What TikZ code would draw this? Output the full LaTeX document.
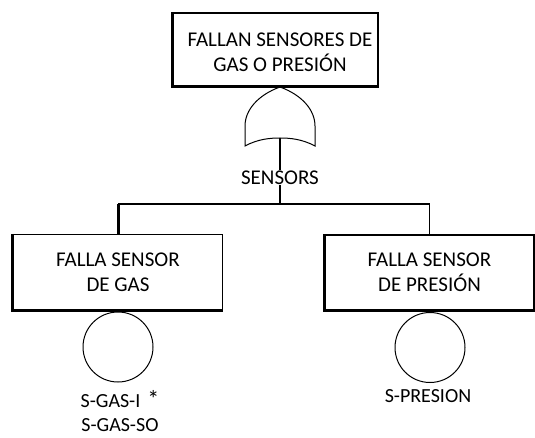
\documentclass[tikz,border=0pt]{standalone}
\usepackage{fontspec}
\setmainfont{Carlito}
\begin{document}
\begin{tikzpicture}[x=1pt,y=-1pt,
  box/.style={draw,line width=1.3pt,minimum width=209pt,minimum height=75pt,inner sep=0pt,align=center,font=\fontsize{21}{25}\selectfont},
  txt/.style={font=\fontsize{21}{25}\selectfont,align=center,inner sep=0pt},
  lbl/.style={font=\fontsize{20}{24}\selectfont,align=center,inner sep=0pt},
  ev/.style={draw,circle,line width=1pt,minimum size=70pt,inner sep=0pt},
  heavy/.style={line width=3pt},
  conn/.style={line width=1.3pt},
  gate/.style={line width=1pt}]
\useasboundingbox (0,0) rectangle (535,438);
% top event
\node[box,minimum width=205pt,minimum height=73pt] (top) at (275.5,49.5) {};
\draw[heavy] (top.north west) -- (top.south west) -- (top.south east);
\node[txt] (toptext) at (280,52) {FALLAN SENSORES DE\\GAS O PRESIÓN};
% OR gate
\coordinate (gtip) at (280,87);
\coordinate (gl) at (245,146);
\coordinate (gr) at (315,146);
\coordinate (gb) at (280,138);
\draw[gate] (gtip) .. controls (258,95) and (245,110) .. (245,126) -- (gl)
  .. controls (258,139) and (270,138) .. (gb)
  .. controls (290,138) and (302,139) .. (gr) -- (315,126)
  .. controls (315,110) and (302,95) .. (gtip);
\node[txt] (sensors) at (280,177.5) {SENSORS};
\draw[conn] (gb) -- (sensors.north);
\coordinate (bus) at (280,204);
\draw[conn] (sensors.south) -- (bus);
% intermediate events
\node[box] (gas) at (118,272) {FALLA SENSOR\\DE GAS};
\draw[heavy] (gas.north west) -- (gas.south west) -- (gas.south east);
\node[box] (pres) at (429.5,272.5) {FALLA SENSOR\\DE PRESIÓN};
\draw[heavy] (pres.north west) -- (pres.south west) -- (pres.south east);
\draw[conn] (bus) -| (pres.north);
\draw[conn] (bus) -- (bus -| gas.north);
\draw[heavy] (bus -| gas.north) -- (gas.north);
% basic events
\node[ev] (e1) at (118,347) {};
\node[ev] (e2) at (430,347.5) {};
\draw[heavy] (gas.south) -- (e1.north);
\draw[heavy] (pres.south) -- (e2.north);
\node[lbl] (l1) at (120,411) {S-GAS-I\hspace{0.35em}{\fontsize{24}{24}\selectfont *}\\S-GAS-SO};
\node[lbl] (l2) at (428,396) {S-PRESION};
\end{tikzpicture}
\end{document}
